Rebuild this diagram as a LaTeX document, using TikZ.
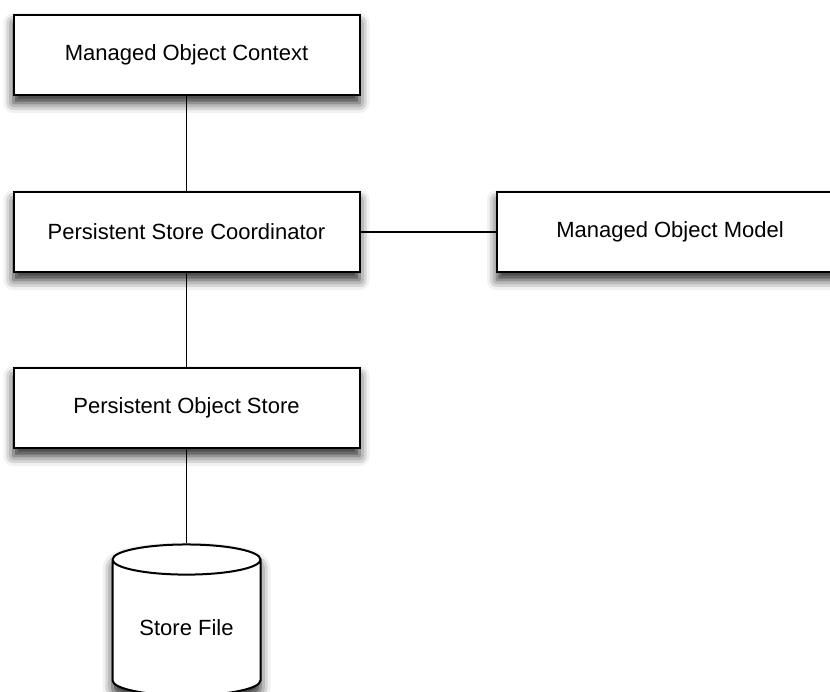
\documentclass[tikz,border=0pt]{standalone}
\usepackage{fontspec}
\setmainfont{Liberation Sans}
\usetikzlibrary{shapes.geometric,shadows.blur}
\tikzset{
  entity/.style={draw,line width=2pt,fill=white,minimum width=346pt,minimum height=80pt,
    inner sep=0pt,font=\fontsize{22}{26}\selectfont,
    blur shadow={shadow xshift=0pt,shadow yshift=-8pt,shadow blur radius=10pt,shadow opacity=85}},
  storefile/.style={entity,cylinder,shape border rotate=90,aspect=0.32,minimum width=148pt,minimum height=151pt}
}
\begin{document}
\begin{tikzpicture}[x=1pt,y=-1pt]
      \useasboundingbox (0,0) rectangle (830,691);
      \draw
        (186.5,55) node[entity] (moc){Managed Object Context}
        (186.5,232) node[entity] (psc){Persistent Store Coordinator}
        (670,232) node[entity] (mom){Managed Object Model}
        (186.5,408) node[entity] (pos){Persistent Object Store}
        (186.5,621) node[storefile,yshift=-7pt] (file){Store File};
      \begin{scope}[-,line width=1.6pt]
        \draw (moc) to (psc);
        \draw (psc) to (mom);
        \draw (psc) to (pos);
        \draw (pos) to (file);
      \end{scope}
    \end{tikzpicture}
\end{document}
